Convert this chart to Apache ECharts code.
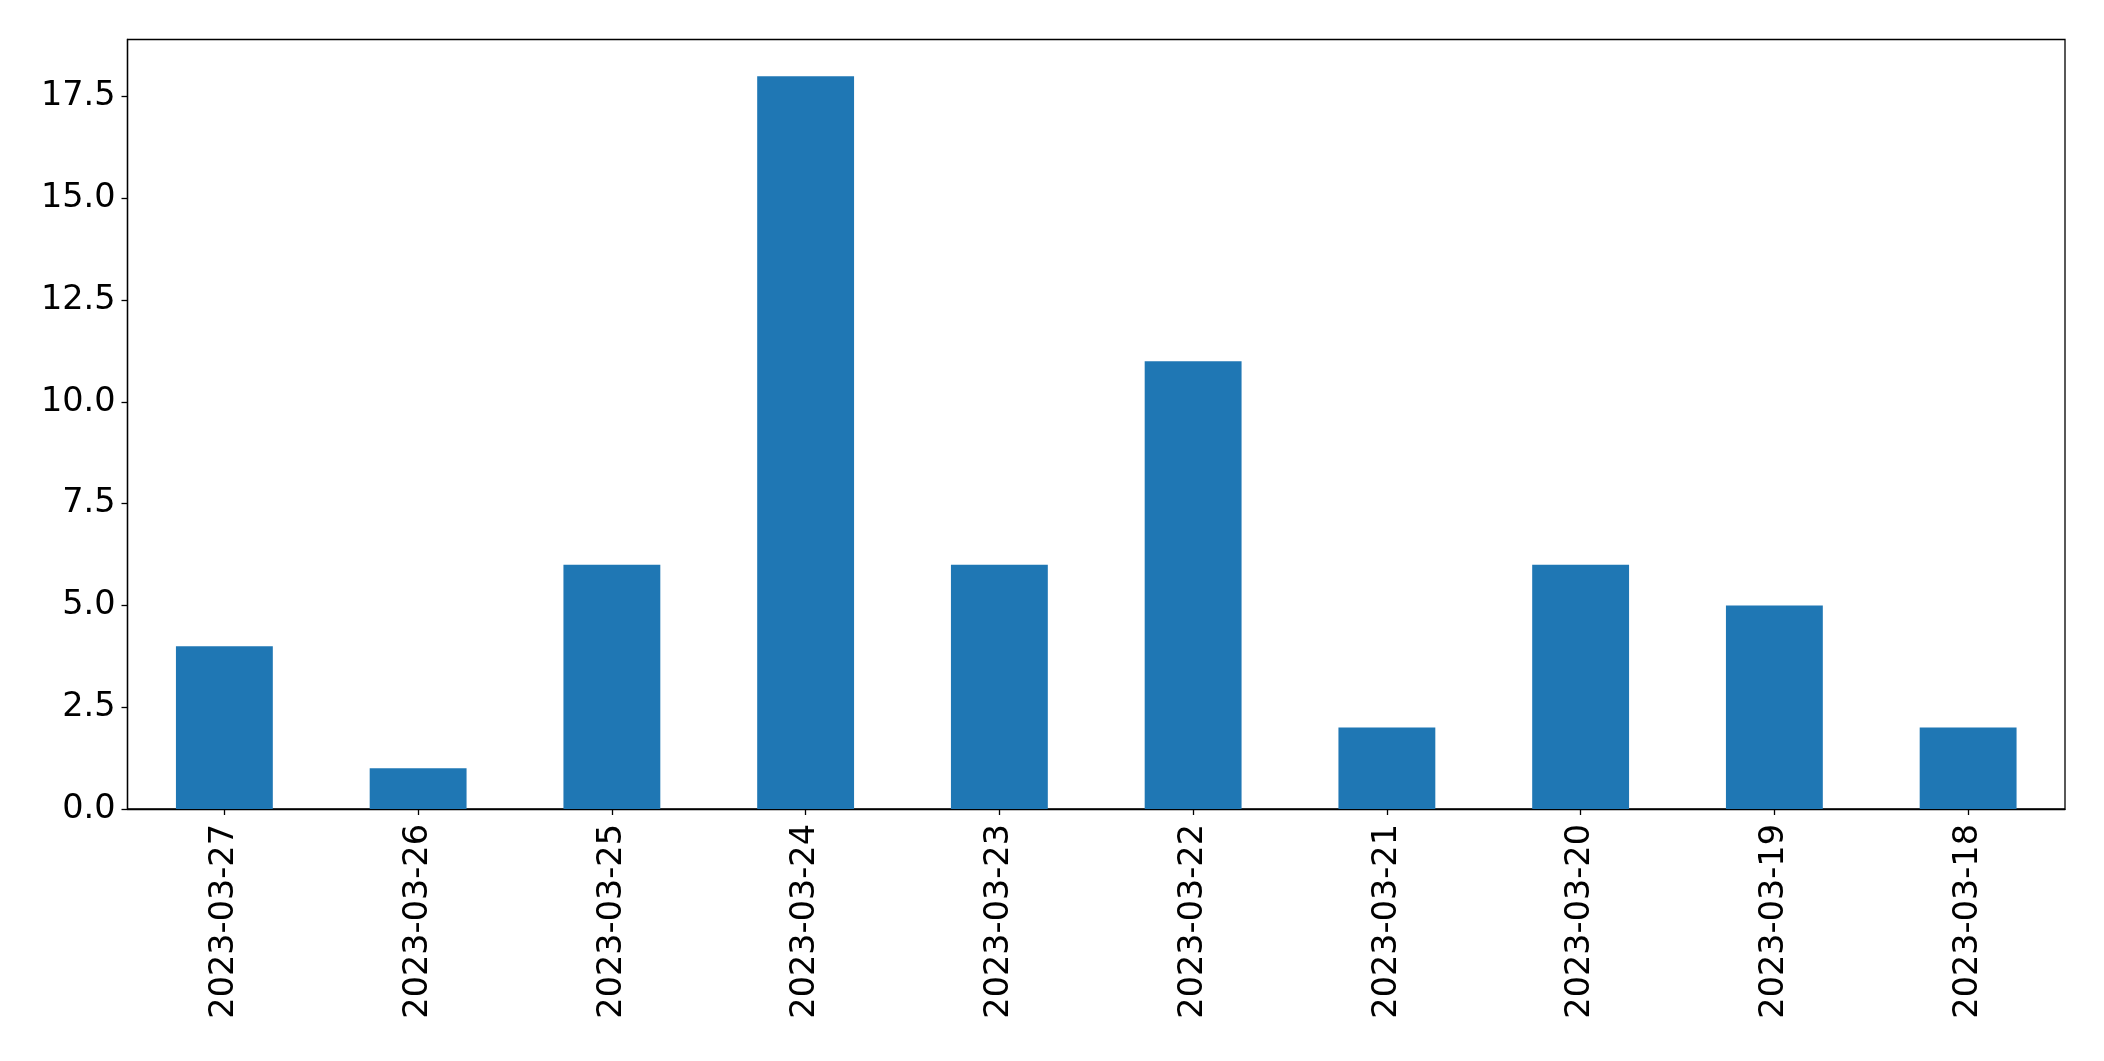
<!DOCTYPE html>
<html>
<head>
<meta charset="utf-8">
<script src="https://cdn.jsdelivr.net/npm/echarts@6/dist/echarts.min.js"></script>
<style>
html,body{margin:0;padding:0;background:#fff;}
#chart{width:2104px;height:1061px;}
</style>
</head>
<body>
<div id="chart"></div>
<script>
const categories = ['2023-03-27','2023-03-26','2023-03-25','2023-03-24','2023-03-23','2023-03-22','2023-03-21','2023-03-20','2023-03-19','2023-03-18'];
const values = [4, 1, 6, 18, 6, 11, 2, 6, 5, 2];
const yTicks = [0, 2.5, 5, 7.5, 10, 12.5, 15, 17.5];

const chart = echarts.init(document.getElementById('chart'), null, {renderer: 'canvas'});
const font = 'DejaVu Sans';
chart.setOption({
  animation: false,
  backgroundColor: '#ffffff',
  grid: {
    left: 127.5, right: 39, top: 39.5, bottom: 252,
    show: true, borderColor: '#000', borderWidth: 1.3, backgroundColor: 'transparent'
  },
  xAxis: {
    type: 'category',
    data: categories,
    axisLine: {show: true, lineStyle: {color: '#000', width: 1.3}},
    axisTick: {show: true, alignWithLabel: true, length: 6, lineStyle: {color: '#000', width: 1.3}},
    axisLabel: {rotate: 90, margin: 15, color: '#000', fontSize: 33.5, fontFamily: font, interval: 0},
    splitLine: {show: false}
  },
  yAxis: {
    type: 'value',
    min: 0, max: 18.9,
    axisLine: {show: true, lineStyle: {color: '#000', width: 1.3}},
    axisTick: {show: true, length: 6, customValues: yTicks, lineStyle: {color: '#000', width: 1.3}},
    axisLabel: {margin: 12, color: '#000', fontSize: 33.5, fontFamily: font, customValues: yTicks,
      formatter: v => v.toFixed(1)},
    splitLine: {show: false}
  },
  series: [{
    type: 'bar',
    data: values,
    barCategoryGap: '50%',
    itemStyle: {color: '#1f77b4'}
  }]
});
</script>
</body>
</html>
